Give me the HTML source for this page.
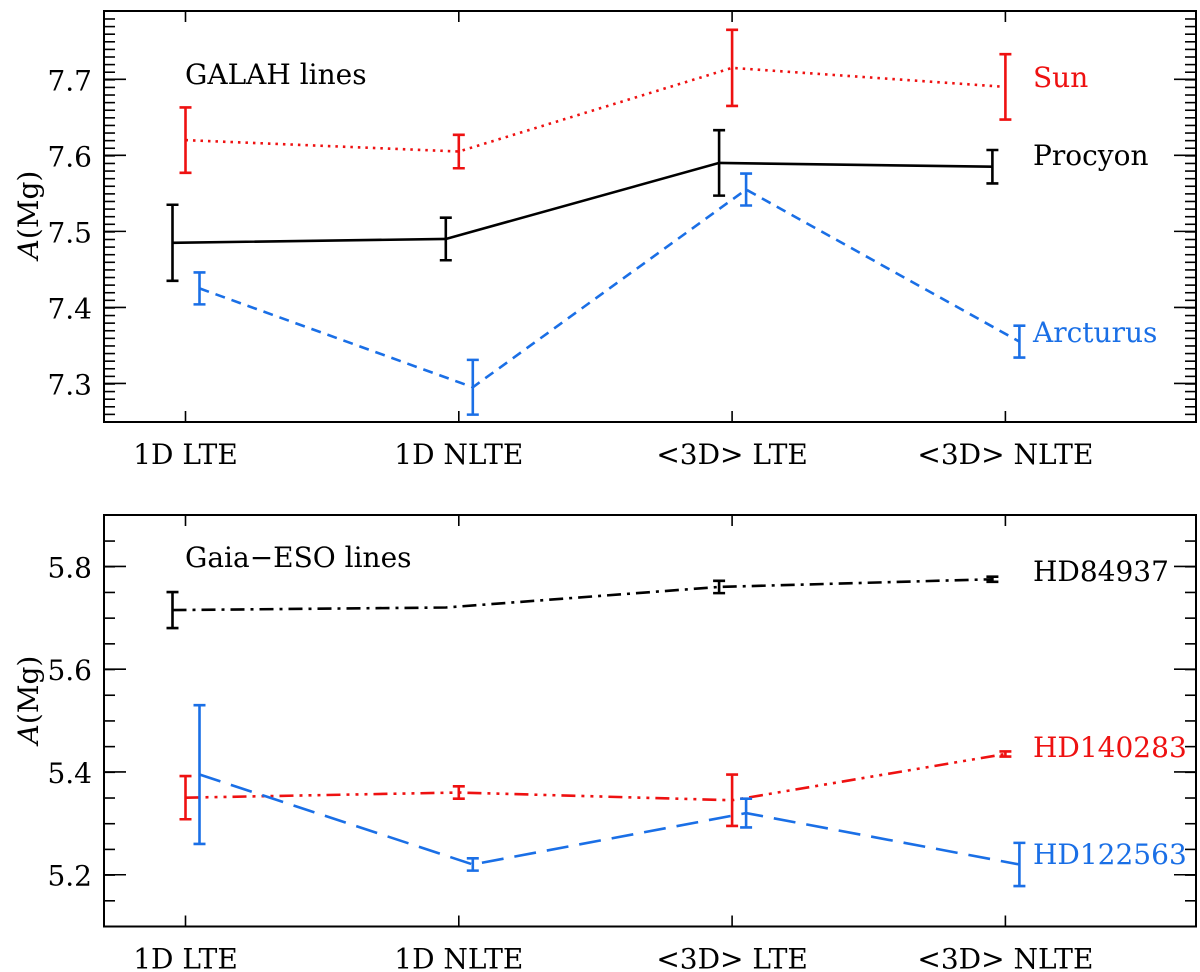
<!DOCTYPE html>
<html><head><meta charset="utf-8"><style>
html,body{margin:0;padding:0;background:#fff;}
svg{display:block;font-family:"DejaVu Serif",serif;}
</style></head><body>
<svg id="chart" width="1200" height="972" viewBox="0 0 1200 972" xmlns="http://www.w3.org/2000/svg"></svg>
<script>
const categories = ["1D LTE","1D NLTE","<3D> LTE","<3D> NLTE"];
// Top panel (GALAH lines)
const sunVals = [7.62, 7.605, 7.715, 7.69];
const sunErr = [0.043, 0.022, 0.050, 0.043];
const procyonVals = [7.485, 7.49, 7.59, 7.585];
const procyonErr = [0.050, 0.028, 0.043, 0.022];
const arcturusVals = [7.425, 7.295, 7.555, 7.355];
const arcturusErr = [0.021, 0.036, 0.021, 0.021];
const topTicks = [7.3, 7.4, 7.5, 7.6, 7.7];
// Bottom panel (Gaia-ESO lines)
const hd84937Vals = [5.715, 5.72, 5.76, 5.775];
const hd84937Err = [0.035, 0, 0.012, 0.005];
const hd140283Vals = [5.35, 5.36, 5.345, 5.435];
const hd140283Err = [0.042, 0.012, 0.050, 0.005];
const hd122563Vals = [5.395, 5.22, 5.32, 5.22];
const hd122563Err = [0.135, 0.012, 0.028, 0.042];
const bottomTicks = [5.2, 5.4, 5.6, 5.8];

const NS = "http://www.w3.org/2000/svg";
const FONT = '"DejaVu Serif", serif';
const svg = document.getElementById("chart");
function el(tag, attrs, parent){
  const e = document.createElementNS(NS, tag);
  for (const k in attrs) e.setAttribute(k, attrs[k]);
  if (tag === "text") e.setAttribute("font-family", FONT);
  (parent||svg).appendChild(e);
  return e;
}
const L = 104, R = 1196;
function xScale(i){ return 185.5 + 273.3*i; }

function panel(name, pTop, pBottom, ymin, ymax, majors, minorStep, ylabelY){
  const g = el("g", {});
  
  
  const y = v => pBottom - (v - ymin) / (ymax - ymin) * (pBottom - pTop);
  const fr = el("rect", {x:L, y:pTop, width:R-L, height:pBottom-pTop, fill:"none", stroke:"#000", "stroke-width":2}, g);
  
  
  const n = Math.round((ymax - ymin) / minorStep);
  for (let k = 0; k <= n; k++){
    const v = ymin + k*minorStep;
    const yy = y(v);
    if (yy < pTop + 1 || yy > pBottom - 1) continue;
    el("line", {x1:L, x2:L+11, y1:yy, y2:yy, stroke:"#000", "stroke-width":1.6}, g);
    el("line", {x1:R, x2:R-11, y1:yy, y2:yy, stroke:"#000", "stroke-width":1.6}, g);
  }
  majors.forEach(v => {
    const yy = y(v);
    el("line", {x1:L, x2:L+22, y1:yy, y2:yy, stroke:"#000", "stroke-width":1.6}, g);
    el("line", {x1:R, x2:R-22, y1:yy, y2:yy, stroke:"#000", "stroke-width":1.6}, g);
    const t = el("text", {x:92, y:yy+11, "text-anchor":"end", "font-size":28}, g);
    t.textContent = v.toFixed(1);
    
    
  });
  categories.forEach((c, i) => {
    const xx = xScale(i);
    el("line", {x1:xx, x2:xx, y1:pBottom, y2:pBottom-11, stroke:"#000", "stroke-width":1.6}, g);
    el("line", {x1:xx, x2:xx, y1:pTop, y2:pTop+11, stroke:"#000", "stroke-width":1.6}, g);
    const t = el("text", {x:xx, y:pBottom+42, "text-anchor":"middle", "font-size":28}, g);
    t.textContent = c;
    
    
  });
  const yl = el("text", {transform:`translate(38,${ylabelY}) rotate(-90)`, "text-anchor":"middle", "font-size":28}, g);
  yl.innerHTML = '<tspan font-style="italic">A</tspan>(Mg)';
  
  
  return {g, y};
}

function series(p, name, vals, errs, dx, color, dash, label, lx, ly){
  const g = el("g", {}, p.g);
  
  
  const pts = vals.map((v, i) => [xScale(i)+dx, p.y(v)]);
  const pl = el("polyline", {points: pts.map(q=>q.join(",")).join(" "), fill:"none", stroke:color, "stroke-width":2.6, "stroke-dasharray":dash}, g);
  
  
  vals.forEach((v, i) => {
    if (!errs[i]) return;
    const xx = xScale(i)+dx, y1 = p.y(v+errs[i]), y2 = p.y(v-errs[i]);
    const eb = el("path", {d:`M${xx},${y1}V${y2}M${xx-6},${y1}H${xx+6}M${xx-6},${y2}H${xx+6}`, stroke:color, "stroke-width":2.6, fill:"none"}, g);
    
    
  });
  const t = el("text", {x:lx, y:ly, "font-size":28, fill:color}, g);
  t.textContent = label;
  
  
}

const RED = "#ee1111", BLUE = "#1a6fe6";
const topPanel = panel("top-panel", 11, 422, 7.2493, 7.7898, topTicks, 0.01, 215);
const tt = el("text", {x:185, y:84, "font-size":28}, topPanel.g);
tt.textContent = "GALAH lines";


series(topPanel, "sun", sunVals, sunErr, 0, RED, "2.5 5", "Sun", 1033, 87);
series(topPanel, "procyon", procyonVals, procyonErr, -13, "#000", "none", "Procyon", 1033, 165);
series(topPanel, "arcturus", arcturusVals, arcturusErr, 14, BLUE, "10 7", "Arcturus", 1033, 342);

const botPanel = panel("bottom-panel", 515, 926.5, 5.0993, 5.9, bottomTicks, 0.05, 700);
const bt = el("text", {x:185, y:567, "font-size":28}, botPanel.g);
bt.textContent = "Gaia\u2212ESO lines";


series(botPanel, "hd84937", hd84937Vals, hd84937Err, -13, "#000", "14 6 3 6", "HD84937", 1033, 581);
series(botPanel, "hd140283", hd140283Vals, hd140283Err, 0, RED, "14 6 3 6 3 6 3 6", "HD140283", 1033, 757);
series(botPanel, "hd122563", hd122563Vals, hd122563Err, 14, BLUE, "22 11", "HD122563", 1033, 864);
</script>
</body></html>
